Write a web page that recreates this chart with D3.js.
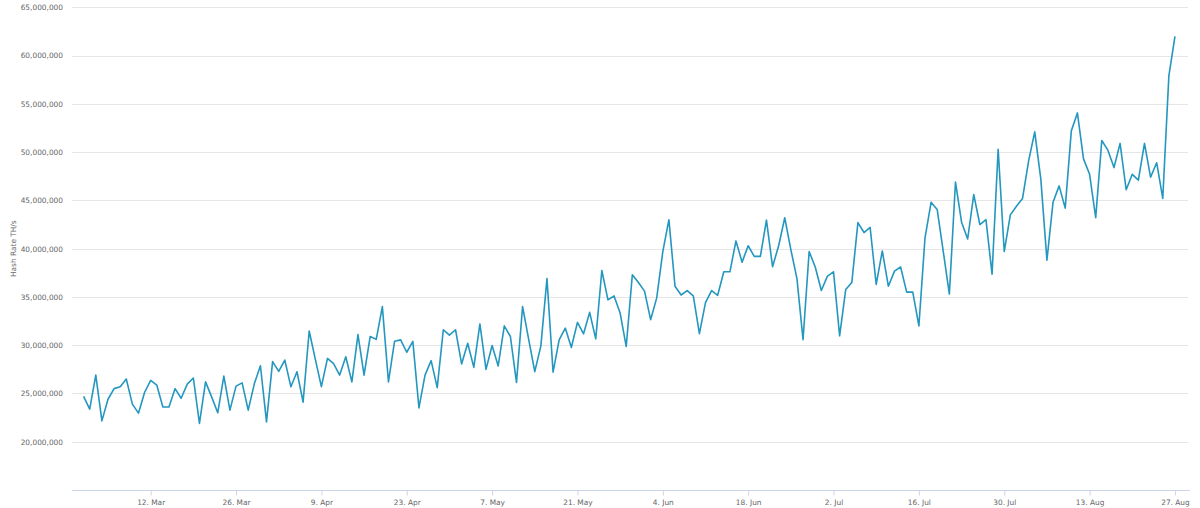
<!DOCTYPE html>
<html>
<head>
<meta charset="utf-8">
<script src="https://cdn.jsdelivr.net/npm/d3@7/dist/d3.min.js"></script>
<style>
  html, body { margin: 0; padding: 0; background: #fff; }
  svg { display: block; }
  text { font-family: "DejaVu Sans", Verdana, sans-serif; }
</style>
</head>
<body>
<svg id="chart" width="1200" height="508"></svg>
<script>
// ---- data ----
const startDate = "2018-03-01"; // first daily observation
const hashRateMillions = [
  24.69, 23.37, 26.9, 22.16, 24.4, 25.5, 25.7, 26.5, 23.9, 22.96, 25.1, 26.35, 25.87, 23.6, 23.6, 25.5, 24.5, 25.97, 26.6, 21.9, 26.2, 24.65, 23.0,
  26.8, 23.27, 25.76, 26.1, 23.27, 26.0, 27.87, 22.06, 28.3, 27.28, 28.46, 25.7, 27.25, 24.1, 31.47, 28.56, 25.7, 28.63, 28.1, 26.9, 28.8, 26.2, 31.1,
  26.9, 30.9, 30.6, 34.0, 26.2, 30.4, 30.55, 29.27, 30.4, 23.5, 26.9, 28.4, 25.6, 31.6, 31.04, 31.6, 28.06, 30.2, 27.7, 32.2, 27.5, 29.97, 27.85,
  32.0, 30.9, 26.15, 34.0, 30.6, 27.26, 29.93, 36.9, 27.2, 30.55, 31.77, 29.76, 32.36, 31.18, 33.4, 30.66, 37.74, 34.7, 35.1, 33.33, 29.86, 37.3, 36.5,
  35.6, 32.64, 34.9, 39.7, 43.0, 36.1, 35.2, 35.66, 35.1, 31.2, 34.4, 35.66, 35.17, 37.6, 37.6, 40.8, 38.6, 40.3, 39.2, 39.2, 42.95, 38.13, 40.3,
  43.2, 39.9, 36.9, 30.56, 39.7, 38.1, 35.66, 37.15, 37.6, 30.97, 35.76, 36.5, 42.7, 41.67, 42.2, 36.3, 39.76, 36.1, 37.67, 38.1, 35.5, 35.5, 32.0,
  41.1, 44.8, 44.06, 39.7, 35.3, 46.9, 42.74, 41.0, 45.6, 42.5, 43.0, 37.36, 50.3, 39.7, 43.5, 44.4, 45.2, 49.1, 52.1, 47.2,
  38.8, 44.8, 46.5, 44.2, 52.2, 54.06, 49.3, 47.7, 43.2, 51.2, 50.2, 48.4, 50.9, 46.1, 47.7, 47.1, 50.9, 47.4, 48.9, 45.2, 57.9, 62.0
];
const xTickDates = ["2018-03-12","2018-03-26","2018-04-09","2018-04-23","2018-05-07","2018-05-21",
  "2018-06-04","2018-06-18","2018-07-02","2018-07-16","2018-07-30","2018-08-13","2018-08-27"];
const yTicks = [20e6, 25e6, 30e6, 35e6, 40e6, 45e6, 50e6, 55e6, 60e6, 65e6];
const yTitle = "Hash Rate TH/s";

// ---- build ----
const parse = d3.utcParse("%Y-%m-%d");
const t0 = parse(startDate);
const series = hashRateMillions.map((v, i) => ({ date: d3.utcDay.offset(t0, i), value: v * 1e6 }));

const plot = { left: 72, right: 1188, top: 7.3, bottom: 490 };
const svg = d3.select("#chart");

const x = d3.scaleUtc()
  .domain([new Date(Date.UTC(2018, 1, 27, 2, 20)), new Date(Date.UTC(2018, 7, 29, 3, 20))])
  .range([plot.left, plot.right]);
const y = d3.scaleLinear().domain([15e6, 65e6]).range([plot.bottom, plot.top]);

// grid lines
svg.append("g")
  .selectAll("line").data(yTicks).join("line")
  .attr("x1", plot.left).attr("x2", plot.right)
  .attr("y1", d => Math.round(y(d)) + 0.5).attr("y2", d => Math.round(y(d)) + 0.5)
  .attr("stroke", "#e6e6e6").attr("stroke-width", 1);

// y axis labels
const yAxis = d3.axisLeft(y).tickValues(yTicks).tickFormat(d3.format(",")).tickSize(0).tickPadding(0);
const gy = svg.append("g").attr("transform", `translate(${plot.left - 9},0)`).call(yAxis);
gy.select(".domain").remove();
gy.selectAll("text").attr("fill", "#666").style("font-size", "7.4px").attr("font-family", "DejaVu Sans");

// y title
svg.append("text")
  .attr("transform", `translate(15.5, ${(plot.top + plot.bottom) / 2}) rotate(-90)`)
  .attr("text-anchor", "middle")
  .attr("fill", "#666").style("font-size", "7.4px")
  .text(yTitle);

// x axis
const fmt = d3.utcFormat("%-d. %b");
const xAxis = d3.axisBottom(x).tickValues(xTickDates.map(parse)).tickFormat(fmt).tickSize(5).tickPadding(4);
const gx = svg.append("g").attr("transform", `translate(0,${plot.bottom + 0.5})`).call(xAxis);
gx.select(".domain").remove();
gx.selectAll(".tick line").attr("stroke", "#ccd6eb");
gx.selectAll("text").attr("fill", "#666").style("font-size", "7.4px").attr("font-family", "DejaVu Sans");
svg.append("line")
  .attr("x1", plot.left).attr("x2", plot.right + 2)
  .attr("y1", plot.bottom + 0.5).attr("y2", plot.bottom + 0.5)
  .attr("stroke", "#ccd6eb").attr("stroke-width", 1);

// line
const line = d3.line().x(d => x(d.date)).y(d => y(d.value));
svg.append("path")
  .datum(series)
  .attr("d", line)
  .attr("fill", "none")
  .attr("stroke", "#2397bf")
  .attr("stroke-width", 1.6)
  .attr("stroke-linejoin", "round");
</script>
</body>
</html>
